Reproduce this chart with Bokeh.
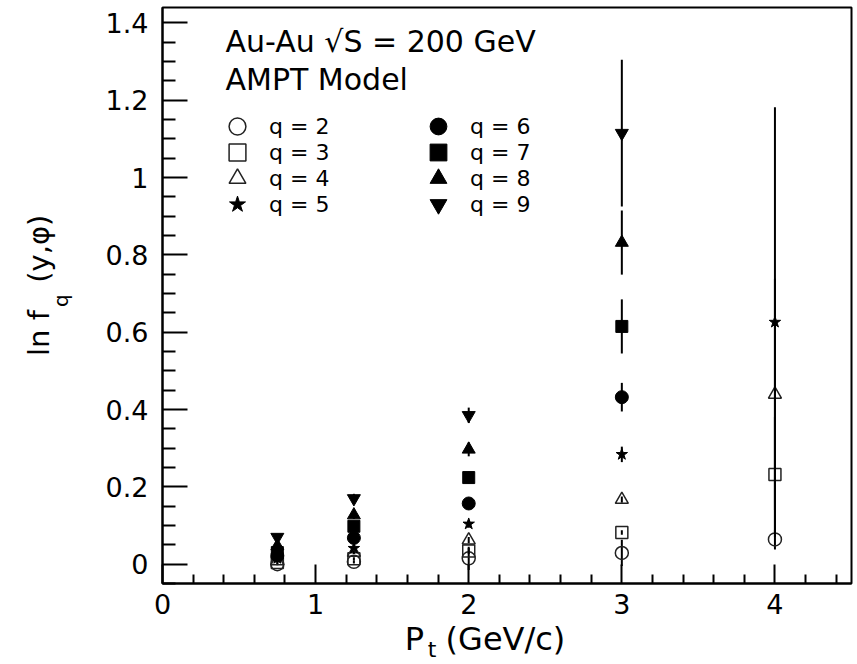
import numpy as np
from bokeh.plotting import figure
from bokeh.models import (Range1d, FixedTicker, Label, Legend, LegendItem,
                          ColumnDataSource, LinearAxis)
from bokeh.embed import file_html
from bokeh.resources import INLINE

# ---------------- data ----------------
pt_all = [0.75, 1.25, 2.0, 3.0, 4.0]
pt_low = [0.75, 1.25, 2.0, 3.0]

q2 = [0.000, 0.006, 0.015, 0.029, 0.064]
q3 = [0.004, 0.014, 0.034, 0.082, 0.232]
q4 = [0.008, 0.030, 0.062, 0.167, 0.439]
q5 = [0.015, 0.041, 0.104, 0.284, 0.626]
q6 = [0.022, 0.068, 0.157, 0.432]
q7 = [0.030, 0.098, 0.224, 0.615]
q8 = [0.047, 0.127, 0.297, 0.832]
q9 = [0.070, 0.170, 0.385, 1.115]

e2 = [0.003, 0.004, 0.030, 0.034, 0.026]
e3 = [0.003, 0.004, 0.008, 0.006, 0.150]
e4 = [0.003, 0.004, 0.008, 0.008, 0.300]
e5 = [0.003, 0.005, 0.010, 0.020, 0.556]
e6 = [0.003, 0.006, 0.012, 0.037]
e7 = [0.004, 0.008, 0.015, 0.070]
e8 = [0.005, 0.010, 0.018, 0.083]
e9 = [0.006, 0.012, 0.020, 0.190]

labels = ["q = 2", "q = 3", "q = 4", "q = 5", "q = 6", "q = 7", "q = 8", "q = 9"]
x_ticks = [0, 1, 2, 3, 4]
x_minor = [0.2, 0.4, 0.6, 0.8, 1.2, 1.4, 1.6, 1.8, 2.2, 2.4, 2.6, 2.8,
           3.2, 3.4, 3.6, 3.8, 4.2, 4.4]
y_ticks = [0, 0.2, 0.4, 0.6, 0.8, 1.0, 1.2, 1.4]
y_tick_labels = ["0", "0.2", "0.4", "0.6", "0.8", "1", "1.2", "1.4"]
y_minor = [round(0.05 * i, 2) for i in range(-1, 29) if i % 4 != 0]

x_title_parts = ["P", "t", "(GeV/c)"]
y_title_parts = ["ln f", "q", "(y,\u03c6)"]
header = ["Au-Au \u221aS = 200 GeV", "AMPT Model"]

# ---------------- styles / layout ----------------
FONT = "DejaVu Sans"
series = [
    (pt_all, q2, e2, "circle", False, 13),
    (pt_all, q3, e3, "square", False, 12),
    (pt_all, q4, e4, "triangle", False, 13),
    (pt_all, q5, e5, "star", True, 12),
    (pt_low, q6, e6, "circle", True, 13),
    (pt_low, q7, e7, "square", True, 12),
    (pt_low, q8, e8, "triangle", True, 13),
    (pt_low, q9, e9, "inverted_triangle", True, 13),
]
# legend entry positions (screen px from the frame's bottom-left corner)
legend_pos = [(54, 436), (54, 410), (54, 384), (54, 358),
              (255, 436), (255, 410), (255, 384), (255, 358)]
# positions of the axis-title pieces along their axes
x_title_pos = [1.645, 1.76, 2.24]
y_title_pos = [0.598, 0.682, 0.816]

p = figure(width=857, height=664, output_backend="svg", toolbar_location=None,
           x_range=Range1d(0, 4.5), y_range=Range1d(-0.05, 1.44),
           min_border_left=162, min_border_right=6, min_border_top=7, min_border_bottom=80)
p.background_fill_color = "white"
p.border_fill_color = "white"
p.xgrid.visible = False
p.ygrid.visible = False
p.outline_line_color = "black"
p.outline_line_width = 2
p.outline_line_alpha = 1.0

for ax, ticks, minor in ((p.xaxis[0], x_ticks, x_minor), (p.yaxis[0], y_ticks, y_minor)):
    ax.ticker = FixedTicker(ticks=ticks, minor_ticks=minor)
    ax.axis_line_color = "black"
    ax.axis_line_width = 2
    ax.major_tick_line_color = "black"
    ax.major_tick_line_width = 2
    ax.minor_tick_line_color = "black"
    ax.minor_tick_line_width = 2
    ax.major_tick_out = 0
    ax.minor_tick_out = 0
    ax.major_label_text_font = FONT
    ax.major_label_text_font_size = "27px"
    ax.major_label_text_color = "black"

p.xaxis[0].major_tick_in = 19
p.xaxis[0].minor_tick_in = 9
p.xaxis[0].major_label_standoff = 10

p.yaxis[0].major_tick_in = 25
p.yaxis[0].minor_tick_in = 13
p.yaxis[0].major_label_standoff = 14
p.yaxis[0].major_label_overrides = {t: s for t, s in zip(y_ticks, y_tick_labels)}


def text_axis(side, ticks, texts, size, standoff, orientation):
    ax = LinearAxis(ticker=FixedTicker(ticks=ticks, minor_ticks=[]),
                    major_label_overrides={t: s for t, s in zip(ticks, texts)},
                    axis_line_color=None, major_tick_line_color=None,
                    minor_tick_line_color=None, major_tick_in=0, major_tick_out=0,
                    minor_tick_in=0, minor_tick_out=0,
                    major_label_standoff=standoff, major_label_orientation=orientation,
                    major_label_text_font=FONT, major_label_text_font_size=size,
                    major_label_text_color="black")
    p.add_layout(ax, side)


# x title: subscript "t" first (its band overlaps the main band), then "P" and "(GeV/c)"
text_axis("below", [x_title_pos[1]], [x_title_parts[1]], "22px", 20, "horizontal")
text_axis("below", [x_title_pos[0], x_title_pos[2]], [x_title_parts[0], x_title_parts[2]],
          "32px", -45, "horizontal")

# y title: subscript "q" (nearer the frame), then "ln f" and "(y,phi)"
text_axis("left", [y_title_pos[1]], [y_title_parts[1]], "20px", 29, "vertical")
text_axis("left", [y_title_pos[0], y_title_pos[2]], [y_title_parts[0], y_title_parts[2]],
          "29px", -10, "vertical")

renderers = []
for xs, ys, es, marker, filled, size in series:
    src = ColumnDataSource(dict(
        x=xs, y=ys,
        lo=[a - b for a, b in zip(ys, es)],
        hi=[a + b for a, b in zip(ys, es)]))
    p.segment(x0="x", y0="lo", x1="x", y1="hi", source=src, line_color="black", line_width=2)
    r = p.scatter(x="x", y="y", source=src, marker=marker, size=size,
                  fill_color="black" if filled else None,
                  line_color="black" if filled else "#222222",
                  line_width=1 if filled else 1.5)
    renderers.append(r)

for r, lab, loc in zip(renderers, labels, legend_pos):
    lg = Legend(items=[LegendItem(label=lab, renderers=[r])], location=loc,
                glyph_width=42, glyph_height=42, label_height=22,
                label_standoff=11, padding=0, margin=0, spacing=0,
                border_line_color=None, background_fill_alpha=0,
                label_text_font=FONT, label_text_font_size="22px",
                label_text_color="black")
    p.add_layout(lg, "center")

for txt, yy in zip(header, [542, 504]):
    p.add_layout(Label(x=63, y=yy, x_units="screen", y_units="screen", text=txt,
                       text_font=FONT, text_font_size="30px", text_color="black",
                       text_align="left", text_baseline="alphabetic"))

open("out.html", "w").write(file_html(p, INLINE))
